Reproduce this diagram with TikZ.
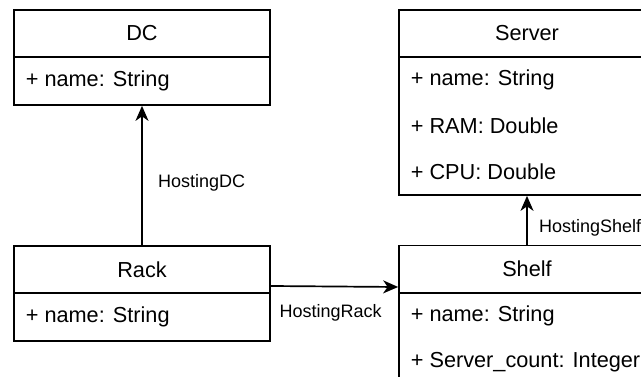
\documentclass[tikz,border=0pt]{standalone}
\usepackage{fontspec}
\setmainfont{Liberation Sans}
\usetikzlibrary{arrows.meta}
\tikzset{
	head/.style={draw, line width=1.7pt, minimum width=256pt, minimum height=47pt, inner sep=0pt, font=\fontsize{21.7}{26}\selectfont},
	body/.style={draw, line width=1.7pt, minimum width=256pt, inner sep=0pt},
	attr/.style={anchor=west, inner sep=0pt, font=\fontsize{21.7}{26}\selectfont},
	assoc/.style={font=\fontsize{18}{22}\selectfont},
}

\begin{document}
\begin{tikzpicture}[x=1pt, y=-1pt, line width=1.7pt, >={Stealth[length=15pt, width=13pt, inset=4.5pt]}]
	\useasboundingbox (0, 0) rectangle (641, 377);
	\clip (0, 0) rectangle (641, 377);
	\node [head] (D1) at (142, 33.5) {DC};
	\node [body, minimum height=48pt] (D2) at (142, 81) {};
	\node [attr] (D3) at (25, 81) {+ name: String};
	\node [head] (R1) at (142, 269.5) {Rack};
	\node [body, minimum height=48pt] (R2) at (142, 317) {};
	\node [attr] (R3) at (25, 317) {+ name: String};
	\node [head] (S1) at (527, 33.5) {Server};
	\node [body, minimum height=138pt] (S2) at (527, 126) {};
	\node [attr] (S3) at (410, 80) {+ name: String};
	\node [attr] (S4) at (410, 126) {+ RAM: Double};
	\node [attr] (S5) at (410, 172) {+ CPU: Double};
	\node [head] (H1) at (527, 269) {Shelf};
	\node [body, minimum height=92pt] (H2) at (527, 339) {};
	\node [attr] (H3) at (410, 316) {+ name: String};
	\node [attr] (H4) at (410, 362) {+ Server\_count: Integer};
	\draw [->] (R1) -- node [assoc, right, xshift=12pt, pos=0.45] {HostingDC} (D2);
	\draw [->] ([yshift=-16.5pt]R1.east) -- node [assoc, below=14pt, pos=0.47] {HostingRack} ([yshift=-18pt]H1.west);
	\draw [->] (H1) -- node [assoc, right, xshift=8pt, pos=0.35] {HostingShelf} (S2);
\end{tikzpicture}
\end{document}
